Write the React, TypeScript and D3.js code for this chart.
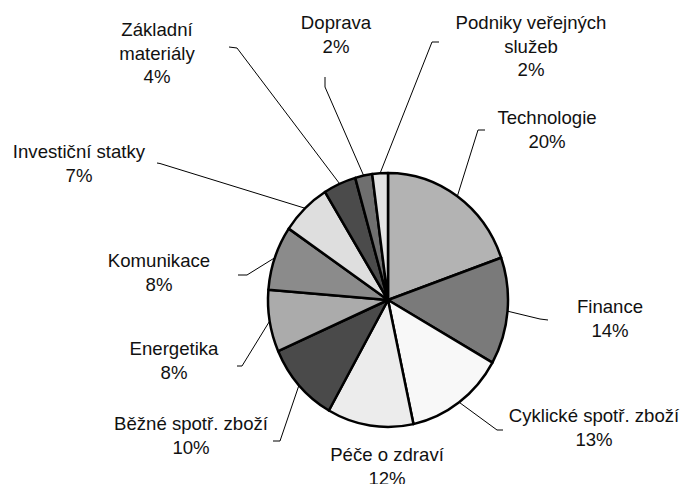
import React, { useRef, useEffect } from "react";
import * as d3 from "d3";

// sector shares (%); labels show rounded values
const categories = [
  "Technologie",
  "Finance",
  "Cyklické spotř. zboží",
  "Péče o zdraví",
  "Běžné spotř. zboží",
  "Energetika",
  "Komunikace",
  "Investiční statky",
  "Základní materiály",
  "Doprava",
  "Podniky veřejných služeb",
];
const shares = [19.6, 13.6, 13.4, 11.6, 10.2, 7.9, 8.2, 6.7, 4.4, 2.3, 2.1];
const labelText = [
  ["Technologie"],
  ["Finance"],
  ["Cyklické spotř. zboží"],
  ["Péče o zdraví"],
  ["Běžné spotř. zboží"],
  ["Energetika"],
  ["Komunikace"],
  ["Investiční statky"],
  ["Základní", "materiály"],
  ["Doprava"],
  ["Podniky veřejných", "služeb"],
];
const fills = [
  "#b3b3b3", "#7a7a7a", "#f8f8f8", "#ececec", "#4a4a4a", "#ababab",
  "#8b8b8b", "#dedede", "#4b4b4b", "#6f6f6f", "#e3e3e3",
];

// label layout: centre x, first baseline
const labelPos = [
  [547, 124], [610, 313], [594, 422], [387, 461], [191, 430], [174, 355],
  [159, 267], [79, 158], [157, 36], [336, 29], [531, 29],
];
// leader knee and tail end (null = no leader)
const leaders = [
  [478, 130, 485, 130],
  [540, 319, 548, 320],
  [497, 430, 503, 430],
  null,
  [280, 441, 273, 441],
  [242, 366, 237, 366],
  [247, 275, 238, 275],
  [160, 163.5, 157, 163],
  [237, 48, 229, 47],
  [325, 87, 325, 77],
  [432, 42, 439, 42],
];

export default function App() {
  const svgRef = useRef<SVGSVGElement>(null);

  useEffect(() => {
    const svg = d3.select(svgRef.current);
    svg.selectAll("*").remove();

    const cx = 388,
      cy = 300,
      rx = 120,
      ry = 127;

    const pie = d3
      .pie<number>()
      .sort(null)
      .value((d) => d);
    const arcs = pie(shares);
    const arc = d3.arc<d3.PieArcDatum<number>>().innerRadius(0).outerRadius(rx);

    // pie is slightly taller than wide
    const g = svg
      .append("g")
      .attr("transform", `translate(${cx},${cy}) scale(1,${ry / rx})`);

    g.selectAll("path")
      .data(arcs)
      .enter()
      .append("path")
      .attr("d", arc)
      .attr("fill", (d, i) => fills[i])
      .attr("stroke", "#000")
      .attr("stroke-width", 2.5)
      .attr("stroke-linejoin", "round")
      .attr("vector-effect", "non-scaling-stroke");

    // leader lines
    arcs.forEach((a, i) => {
      const l = leaders[i];
      if (!l) return;
      const mid = (a.startAngle + a.endAngle) / 2;
      const x0 = cx + rx * Math.sin(mid);
      const y0 = cy - ry * Math.cos(mid);
      svg
        .append("path")
        .attr("d", `M${x0},${y0}L${l[0]},${l[1]}L${l[2]},${l[3]}`)
        .attr("fill", "none")
        .attr("stroke", "#000")
        .attr("stroke-width", 1);
    });

    // labels
    arcs.forEach((a, i) => {
      const [lx, ly] = labelPos[i];
      const lines = [...labelText[i], `${Math.round(shares[i])}%`];
      const t = svg
        .append("text")
        .attr("text-anchor", "middle")
        .attr("font-family", "'Liberation Sans', Arial, sans-serif")
        .attr("font-size", 18.6)
        .attr("fill", "#111");
      lines.forEach((s, k) => {
        t.append("tspan")
          .attr("x", lx)
          .attr("y", ly + k * 23.6)
          .text(s);
      });
    });
  }, []);

  return (
    <svg
      ref={svgRef}
      width={684}
      height={484}
      style={{ position: "absolute", left: 0, top: 0, background: "#fff" }}
    />
  );
}
